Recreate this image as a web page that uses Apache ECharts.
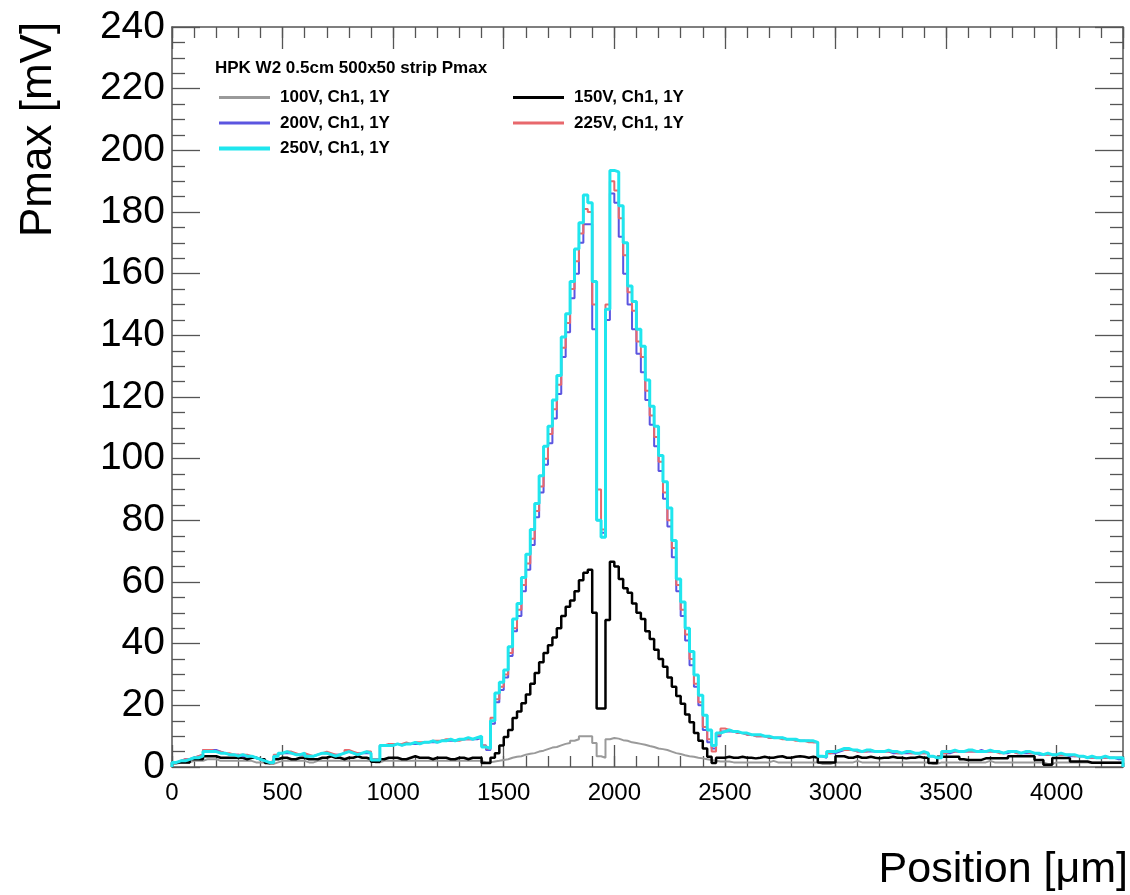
<!DOCTYPE html>
<html><head><meta charset="utf-8">
<script src="https://cdn.jsdelivr.net/npm/echarts@6/dist/echarts.min.js"></script>
<style>html,body{margin:0;padding:0;background:#fff}#chart{width:1130px;height:895px}</style>
</head><body><div id="chart"></div>
<script>
// Histogram binning (µm)
const BIN_WIDTH = 20, X_MIN = 0, X_MAX = 4300;
const Y_MIN = 0, Y_MAX = 240;
const seriesNames = ['100V, Ch1, 1Y', '150V, Ch1, 1Y', '200V, Ch1, 1Y', '225V, Ch1, 1Y', '250V, Ch1, 1Y'];
const seriesColors = ['#9a9a9a', '#000000', '#5b55e0', '#e8686c', '#1fe6ee'];
const plotTitle = 'HPK W2 0.5cm 500x50 strip Pmax';
const xTitle = 'Position [\u03bcm]';
const yTitle = 'Pmax [mV]';

// Pmax per 20 µm bin (215 bins, 0..4300 µm)
const v100 = [
 1,1.5,1.5,1.5,2,2,2,2.5,2.5,2.5,
 2,2,2,2,2,2,2,2,1.5,1.5,
 1.5,1,1,1.5,2,2,2,2,2,2,
 1.5,1.5,2,2,2,2,2,2,2,2,
 2,2,2,2,2,1.5,1.5,2,2,2,
 2,2,2,2,2,2,2,2,2,2,
 2,2,2,2,2,2,2,2,2,2,
 1.5,1.5,1.8,2,2.3,2.5,3,3.3,3.5,4,
 4.3,4.5,5,5.3,5.8,6.3,6.5,7,7.5,7.8,
 8.5,9,10,10,10,7.8,3.5,3,9,9.4,
 9.2,8.7,8.5,8,7.8,7.5,7.2,6.8,6.5,6,
 5.8,5.5,5,4.5,4.2,3.8,3.5,3.3,3,2.8,
 2.5,2.3,2,1.8,1.8,1.8,1.5,1.5,1.5,1.5,
 1.5,1.5,1.5,1.5,1.5,2,1.5,1.5,1.5,1.5,
 1.5,1.5,1.5,1.5,1.5,1.5,1,1,1,1.5,
 1.5,1.5,1.5,1.5,2,1.5,1.5,1.5,1.5,1.5,
 1.5,1.5,1.5,1.5,1.5,1.5,1.5,1.5,1.5,1.5,
 1.5,1,1,1.5,1.5,1.5,1.5,1.5,1.5,1.5,
 1.5,1.5,1.5,1.5,2,1.5,1.5,1.5,1.5,1.5,
 1.5,1.5,1.5,1.5,1.5,1.5,1.5,1,1,1.5,
 1.5,1.5,1.5,1.5,1.5,1.5,1.5,1.5,1.5,1.5,
 1.5,1.5,1.5,1.5,1.5
];
const v150 = [
 1.5,1.5,1.5,1.5,2.5,2.5,2.5,3.5,3.5,3.5,
 3,3,3,3,3,3,2.5,3,3,2.5,
 2.5,1.3,1.5,2.5,3,3,2.5,2.5,3,3,
 2.5,2.5,2.5,3,3,3.5,3,3,2.5,3,
 3,3.5,3,3,2.5,1.7,1.7,2.5,3,3,
 3,2.5,2.5,3,3.5,3,3,3,2.5,3,
 3,3,2.5,2.5,3,3,2.5,3,3,3,
 1.3,1.3,3,4.5,7,9.7,12,15.9,18,20.7,
 23.5,27,30.5,34,37,39.5,42,45,49,52,
 54,57,60.6,63,64,50,19,19,47.7,66.6,
 65,61,58,56.5,53,50,48,44,41.5,38,
 35,32.5,29,26,23,20.5,17,14.5,11,8.5,
 6,3.3,1.3,3,3,3.3,3,3,3.3,3,
 3,2.8,3,3.3,3,3,3.3,3.5,3,3,
 3.3,3.5,3.3,3,3.3,3,1.5,1.5,1.5,1.5,
 3.5,3.5,3,3,3.5,3,3,3.3,3,2.8,
 3,3,3.3,3,3,2.8,3,3,3.3,3,
 3,1.3,1.3,3.3,3.3,3.3,3.3,3.3,2.5,2.3,
 2.3,2.3,2.3,2.8,2.8,2.8,2.8,2.8,2.8,3.5,
 3.5,3.5,3.5,3.5,3.5,2.3,2.3,0.7,0.7,2.9,
 2.9,2.9,2.9,1.8,1.8,1.8,1.8,1.4,1.4,1.4,
 1.4,1.4,1.4,1.4,1.4
];
const v200 = [
 1.5,2,2.5,2.5,3,3.5,4,5.5,5.5,5.5,
 5,4.5,4,4,4,3.5,3.5,3.5,3,2.5,
 2,1.5,1.5,3.5,4.5,4.5,4.5,4,4,4,
 3.5,3.5,4,4.5,4.5,4,4,4,4.5,5,
 4.5,4.5,4.5,4.5,4.5,2.5,2.5,7,7,7,
 7.5,7,7.5,7.5,7.5,7.5,8,8,8,8,
 8.5,8.5,8.5,8.5,9,9,9,9,9,9.5,
 7,5.5,14,21,25,29,36,44,49,57,
 64,72,81,89,98,105,113,121,133,141,
 152,160,170,176,176,142,80,76,145,186,
 183,172,160,150,142,134,128,119,111,104,
 96,87,78,68,57,49,41,33,26,20,
 12,8,6,10,11.5,11.5,11.5,11,11,10.5,
 10.5,10,10,10,9.5,9.5,9.5,9.5,9,9,
 9,8.5,8.5,8.5,8,8,3.5,3,4.5,4.5,
 5,5.5,5.5,5.5,5,5,5,5,5,5,
 5,5,4.5,4.5,4.5,4.5,4.5,4.5,4.5,4.5,
 4.5,3.5,3,3,4.5,4.5,5,5,5,5,
 5,5,5.5,5,5,5,5,4.5,4.5,5,
 4.5,4.5,4.5,4.5,4.5,4,4,4,4,4,
 4,4,3.5,3.5,3.5,3.5,3,3,3,3,
 3,3,3,2.5,2.5
];
const v225 = [
 1.5,2,2.5,2.5,3,3.5,4,5.5,5.5,5,
 5,4.5,4.5,4,4,4,4,3.5,3,2.5,
 2,1.5,2,4,4.5,5,5,4.5,4,4.5,
 4,3.5,4,4.5,5,4.5,4,4,4.5,5.5,
 5,4.5,4.5,5,5,2.5,2.5,7,7.5,7.5,
 7.5,7.5,8,7.5,8,8,8,8,8.5,8.5,
 8.5,9,9,8.5,8.5,9,9,9,9.5,9.5,
 7,6,16,22,26,30,37,45,51,59,
 66,74,83,91,100,108,116,124,136,144,
 155,164,173,181,180,150,90,77,150,190,
 187,178,166,154,148,138,133,122,114,107,
 99,89,80,71,59,51,43,35,27,21,
 13,9,5,10.5,12.5,12,11.5,11,11,10.5,
 10.5,10,10,10,9.5,9.5,9.5,9,9,9,
 8.5,8.5,8.5,8,8,8,3.5,3.5,4.5,5,
 5.5,5.5,5.5,5.5,5,5,5,5.5,5,5,
 5,5,5,4.5,4.5,5,4.5,4.5,4.5,4.5,
 4.5,3.5,3,3,4.5,5,5,5,5,5,
 5,5,5,5,5,5,4.5,4.5,5,5,
 4.5,4.5,5,4.5,4.5,4.5,4,4,4,4,
 4,4,4,3.5,3.5,3.5,3,3,3,3,
 3,3,3,3,3
];
const v250 = [
 1.5,2,2,2.5,3,3,3.5,5,5,5,
 4.5,4.5,4,4,3.5,4,3.5,3.5,3,2.5,
 2,1.5,1.5,3.5,4.5,5,4.5,4,4,4.5,
 3.5,3.5,4,4.5,4.5,4,3.5,4,4.5,5,
 4.5,4,4.5,5,4.5,2.3,2.3,7,7,7,
 7.5,7,7.5,7.5,8,7.5,8,8,8.5,8,
 8.5,8.5,9,8.5,9,9,9.5,9,9.5,10,
 6.5,6,15,24,27.5,31.5,39,48,53,61.5,
 69,77,85.5,94.5,104,110.5,119,127,139.5,147,
 157.5,168,176.5,185.5,183,157.5,80,74.5,148.5,193.5,
 193,182,170,156,151,142,136.5,125.5,117,110.5,
 101,92.5,84,73.5,61,53.5,45,37.5,29.8,23.3,
 16.8,12,7,11,11.5,12,11.5,11.5,11,11,
 10.5,10.5,10.5,10,10,9.5,9.5,9.5,9,9,
 9,8.5,8.5,8.5,8.5,8,3.5,3.3,5,5,
 5.5,6,6,5.5,5.5,5,5.5,5.5,5,5,
 5,5.5,5,5,4.5,5,5,4.5,4.5,5,
 4.5,3.5,3,3,5,5,5.5,5,5,5.5,
 5.5,5,5,5,5.5,5,5,4.5,5,5,
 5,4.5,5,5,4.5,4.5,4,4.5,4,4,
 4.5,4,4,4,3.5,3.5,3,3.5,3,3,
 3.5,3,3,3,3
];
const seriesValues = [v100, v150, v200, v225, v250];
const lineWidths = [2, 2.5, 2, 2, 3];

function histData(vals) {
  const d = [[X_MIN, 0]];
  vals.forEach((v, i) => d.push([X_MIN + i * BIN_WIDTH, v]));
  d.push([X_MIN + vals.length * BIN_WIDTH, vals[vals.length - 1]]);
  d.push([X_MIN + vals.length * BIN_WIDTH, 0]);
  return d;
}

const FONT = '"Liberation Sans", Arial, Helvetica, sans-serif';
const AX = '#555';
function xAx(pos, interval, len, showLine, showLabel) {
  return {
    type: 'value', position: pos, min: X_MIN, max: X_MAX, interval: interval,
    axisLine: { show: showLine, onZero: false, lineStyle: { color: AX, width: 1.5 } },
    axisTick: { show: true, inside: true, length: len, lineStyle: { color: AX, width: 1.3 } },
    axisLabel: { show: showLabel, fontSize: 24, color: '#000', fontFamily: FONT, margin: 14, showMaxLabel: false,
      formatter: v => String(v) },
    splitLine: { show: false }
  };
}
function yAx(pos, showLabel) {
  return {
    type: 'value', position: pos, min: Y_MIN, max: Y_MAX, interval: 20,
    axisLine: { show: true, onZero: false, lineStyle: { color: AX, width: 1.5 } },
    axisTick: { show: true, inside: true, length: 28, lineStyle: { color: AX, width: 1.3 } },
    minorTick: { show: true, splitNumber: 4, length: 13, lineStyle: { color: AX, width: 1.3 } },
    axisLabel: { show: showLabel, fontSize: 39, color: '#000', fontFamily: FONT, margin: 7,
      formatter: v => String(v) },
    splitLine: { show: false }, minorSplitLine: { show: false }
  };
}

const thinIcon = 'path://M0,0L50,0L50,3L0,3Z';
const thickIcon = 'path://M0,0L50,0L50,4L0,4Z';
const legendText = { fontSize: 17, fontWeight: 'bold', color: '#000', fontFamily: FONT, padding: [0, 0, 0, 5] };

const chart = echarts.init(document.getElementById('chart'), null, { renderer: 'canvas' });
chart.setOption({
  animation: false,
  backgroundColor: '#fff',
  title: {
    text: plotTitle, left: 215, top: 60, padding: 0,
    textStyle: { fontSize: 17, fontWeight: 'bold', color: '#000', fontFamily: FONT }
  },
  legend: [
    { left: 219, top: 89, padding: 0, orient: 'vertical', itemGap: 8.5, itemWidth: 51, itemHeight: 18, selectedMode: false,
      data: [ { name: seriesNames[0], icon: thinIcon }, { name: seriesNames[2], icon: thinIcon }, { name: seriesNames[4], icon: thickIcon } ],
      textStyle: legendText },
    { left: 513, top: 89, padding: 0, orient: 'vertical', itemGap: 8.5, itemWidth: 51, itemHeight: 18, selectedMode: false,
      data: [ { name: seriesNames[1], icon: thinIcon }, { name: seriesNames[3], icon: thinIcon } ],
      textStyle: legendText }
  ],
  grid: { left: 172, right: 7, top: 27, bottom: 128, containLabel: false },
  xAxis: [
    xAx('bottom', 500, 22, true, true),
    xAx('bottom', 100, 11, false, false),
    xAx('top', 500, 22, true, false),
    xAx('top', 100, 11, false, false)
  ],
  yAxis: [ yAx('left', true), yAx('right', false) ],
  graphic: [
    { type: 'text', x: 17, y: 237, rotation: Math.PI / 2,
      style: { text: yTitle, font: '44px ' + FONT, fill: '#000', textAlign: 'left', textVerticalAlign: 'top' } },
    { type: 'text', right: 2, top: 849,
      style: { text: xTitle, font: '43px ' + FONT, fill: '#000' } }
  ],
  series: seriesNames.map((name, k) => ({
    name: name, type: 'line', step: 'end', xAxisIndex: 0, yAxisIndex: 0,
    showSymbol: false, symbol: 'none', clip: true,
    data: histData(seriesValues[k]),
    lineStyle: { color: seriesColors[k], width: lineWidths[k] },
    itemStyle: { color: seriesColors[k] },
    z: 2 + k
  }))
});
</script>
</body></html>
